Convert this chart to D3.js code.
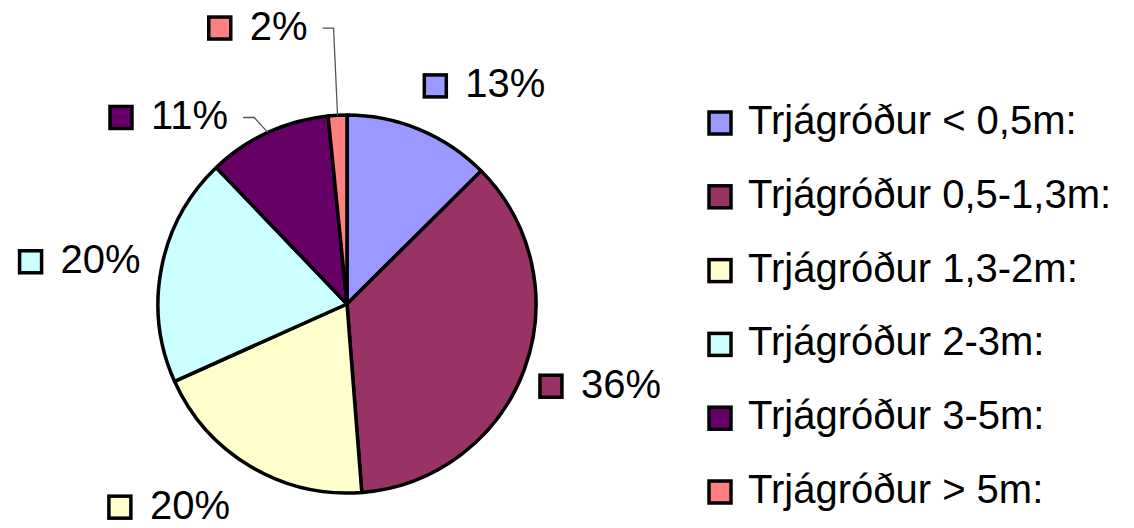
<!DOCTYPE html>
<html>
<head>
<meta charset="utf-8">
<script src="https://cdn.jsdelivr.net/npm/d3@7"></script>
<style>
  body { margin: 0; background: #fff; }
  text { font-family: "Liberation Sans", Arial, sans-serif; fill: #000; }
</style>
</head>
<body>
<svg id="chart" width="1134" height="528"></svg>
<script>
// data
const categories = ['Trjágróður < 0,5m:', 'Trjágróður 0,5-1,3m:', 'Trjágróður 1,3-2m:',
                    'Trjágróður 2-3m:', 'Trjágróður 3-5m:', 'Trjágróður > 5m:'];
const shares = [12.6, 36.3, 19.6, 19.6, 10.6, 1.6];
const colors = ['#9999FF', '#993366', '#FFFFCC', '#CCFFFF', '#660066', '#FF8080'];

// layout
const cx = 347, cy = 304, r = 189;
const fontSize = 40;
// shift of each label box from the slice centroid at 1.25r
const labelShift = [[46, 0], [31, 0], [-58, 0], [-36, 3], [-80, 28], [-78, -40]];

const svg = d3.select('#chart');
const total = d3.sum(shares);

const pie = d3.pie().sort(null).value(d => d)(shares);
const arc = d3.arc().innerRadius(0).outerRadius(r);
const labelArc = d3.arc().innerRadius(r * 1.25).outerRadius(r * 1.25);

const g = svg.append('g').attr('transform', `translate(${cx},${cy})`);

g.selectAll('path.slice')
  .data(pie)
  .enter().append('path')
  .attr('class', 'slice')
  .attr('d', arc)
  .attr('fill', (d, i) => colors[i])
  .attr('stroke', '#000')
  .attr('stroke-width', 3.5)
  .attr('stroke-linejoin', 'round');

// data labels
pie.forEach((d, i) => {
  const c = labelArc.centroid(d);
  const bx = cx + c[0] + labelShift[i][0];
  const by = cy + c[1] + labelShift[i][1];
  const lab = Math.round(d.value / total * 100) + '%';

  const lg = svg.append('g');
  const t = lg.append('text')
    .attr('font-size', fontSize)
    .attr('y', by + 11.5)
    .text(lab);
  const tw = t.node().getComputedTextLength();
  const left = bx - (43 + tw) / 2;
  t.attr('x', left + 43);
  lg.append('rect')
    .attr('x', left + 2).attr('y', by - 11)
    .attr('width', 22).attr('height', 22)
    .attr('fill', colors[i])
    .attr('stroke', '#000').attr('stroke-width', 3.5);

  // leader lines for the labels pulled away from small slices
  if (d.value < 11) {
    const a = (d.startAngle + d.endAngle) / 2;
    const right = left + 43 + tw;
    const pts = [[right + 15, by], [right + 26, by],
                 [cx + r * Math.sin(a), cy - r * Math.cos(a)]];
    svg.append('path')
      .attr('d', d3.line()(pts))
      .attr('fill', 'none')
      .attr('stroke', '#555')
      .attr('stroke-width', 1.3);
  }
});

// legend
const legendY = d3.scalePoint().domain(d3.range(categories.length)).range([134, 503]);
const legend = svg.append('g');
categories.forEach((name, i) => {
  const y = legendY(i);
  legend.append('rect')
    .attr('x', 709).attr('y', y - 22)
    .attr('width', 22).attr('height', 22)
    .attr('fill', colors[i])
    .attr('stroke', '#000').attr('stroke-width', 3.5);
  legend.append('text')
    .attr('x', 748).attr('y', y)
    .attr('font-size', fontSize)
    .text(name);
});
</script>
</body>
</html>
